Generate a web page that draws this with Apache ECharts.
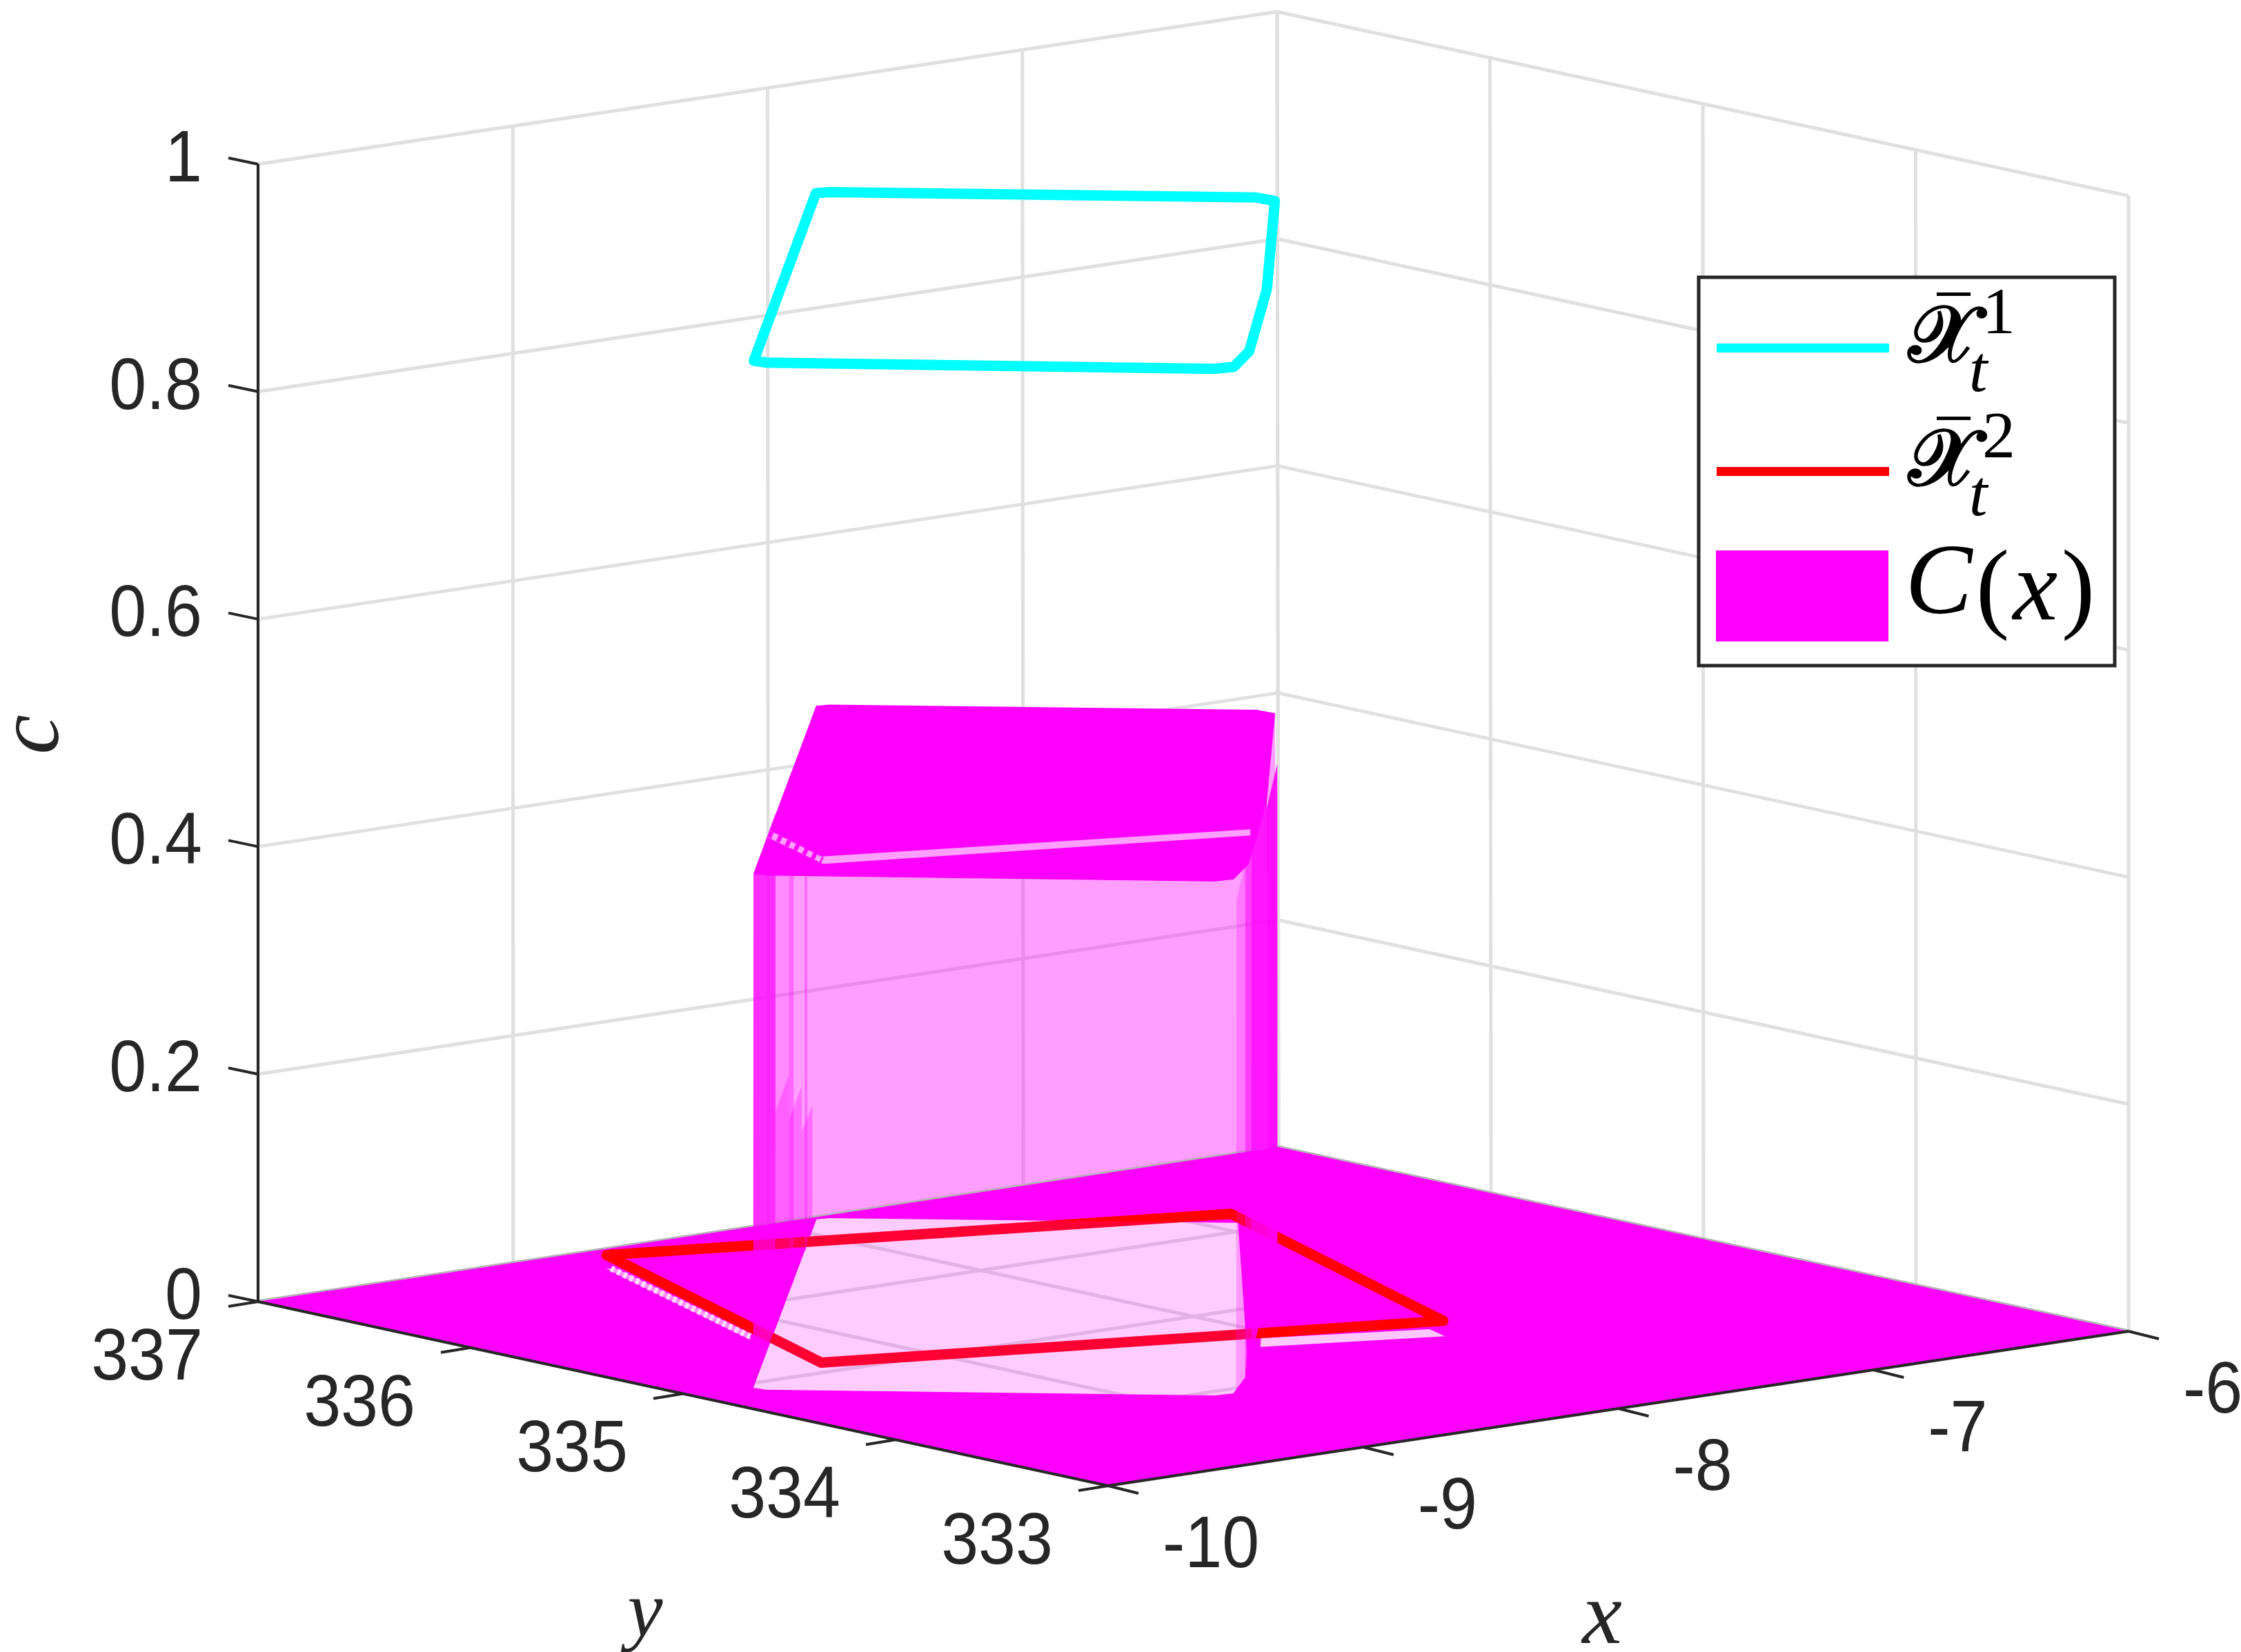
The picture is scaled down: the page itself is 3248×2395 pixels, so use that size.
<!DOCTYPE html>
<html><head><meta charset="utf-8"><style>html,body{margin:0;padding:0;background:#fff}#c{width:3248px;height:2395px}</style>
<script src="https://cdn.jsdelivr.net/npm/echarts@6/dist/echarts.min.js"></script></head><body><div id="c"></div>
<script>
// axis ticks
const xTicks=[-10,-9,-8,-7,-6];
const yTicks=[337,336,335,334,333];
const cTicks=[0,0.2,0.4,0.6,0.8,1];
// level of the first contour and of the top of C(x)
const cyanLevel=0.903, capLevel=0.452;
// outline of the set (x,y)
const regionX=[-9.775,-7.836,-7.793,-6.859,-6.853,-7.82,-8.524,-8.726,-8.791,-9.765];
const regionY=[334.94,336.97,336.96,336.07,335.99,334.87,334.11,333.94,333.95,334.89];
// see-through part of the floor (x,y)
const holeX=[-9.775,-7.836,-7.793,-6.90,-8.256,-8.53,-8.726,-8.791,-9.765];
const holeY=[334.94,336.97,336.96,336.11,334.44,334.12,333.94,333.95,334.89];
// second contour (x,y) at c=0
const redX=[-8.70,-6.82,-7.47,-9.35,-8.70];
const redY=[336.92,336.24,334.46,335.13,336.92];
// gaps in the surface on the floor and in the cap
const gapLeftX=[-8.845,-8.82,-9.204,-9.27], gapLeftY=[336.75,336.73,335.64,335.56];
const gapRightX=[-8.076,-7.59,-7.63,-8.17], gapRightY=[334.59,334.38,334.26,334.48];
const capGapX=[-9.276,-9.434,-8.152,-8.218,-9.51,-9.354], capGapY=[335.46,335.03,334.55,334.47,334.93,335.38];
// dense vertical sheets of the surface side walls: [xa,ya,xb,yb,cTop]
const sheets=[[-9.775,334.94,-9.08,335.67,.452],[-9.08,335.67,-8.66,336.11,.452],[-8.66,336.11,-8.55,336.22,.452],[-8.215,336.57,-8.13,336.66,.452],
[-9.08,335.67,-8.66,336.11,.19],[-8.66,336.11,-8.26,336.53,.15],[-8.26,336.53,-7.96,336.84,.11],
[-8.94,333.67,-8.53,334.12,.452],[-8.53,334.12,-8.29,334.38,.452],[-8.29,334.38,-7.62,335.11,.452],[-7.62,335.11,-7.12,335.66,.43]];
const sheetAlpha=[.72,.12,.35,.35,.3,.3,.3,.25,.6,.85,.92];

// view calibration of the 3D box
const F=[1606,2154],R=[3085,1930],L=[374,1887],Ft=[1608,505],Rt=[3085,284],Lt=[374,238];
function project(x,y,c){const u=(x+10)/4,w=(y-333)/4;
 const fx=F[0]+u*(R[0]-F[0])+w*(L[0]-F[0]),fy=F[1]+u*(R[1]-F[1])+w*(L[1]-F[1]);
 const tx=Ft[0]+u*(Rt[0]-Ft[0])+w*(Lt[0]-Ft[0]),ty=Ft[1]+u*(Rt[1]-Ft[1])+w*(Lt[1]-Ft[1]);
 return [fx+c*(tx-fx),fy+c*(ty-fy)];}
const zip=(X,Y,c)=>X.map((v,i)=>[v,Y[i],c]);
const region=c=>zip(regionX,regionY,c);
const hole=zip(holeX,holeY,0);
const MAG='#ff00ff', DARK='#262626', GRID='#e0e0e0';
let zc=1;
function custom(name,draw){return {type:'custom',name,coordinateSystem:'cartesian2d',clip:false,silent:true,z:zc++,animation:false,data:[0],
 renderItem:(p,api)=>draw(api)};}
const pts=(api,list)=>list.map(q=>api.coord(project(q[0],q[1],q[2])));
function poly(name,list,fill){return custom(name,api=>({type:'polygon',shape:{points:pts(api,list)},style:{fill}}));}
function segs(name,list,color,width){return custom(name,api=>({type:'group',children:list.map(s=>({type:'polyline',shape:{points:pts(api,s)},style:{stroke:color,lineWidth:width,fill:null}}))}));}
function hatch(name,a,b,color,width,dash){return custom(name,api=>{const q=pts(api,[a,b]);
 return {type:'line',shape:{x1:q[0][0],y1:q[0][1],x2:q[1][0],y2:q[1][1]},style:{stroke:color,lineWidth:width,lineDash:dash}};});}
const mid=(X,Y,i,j,c)=>[(X[i]+X[j])/2,(Y[i]+Y[j])/2,c];

const wallGrid=[];
cTicks.forEach(c=>{wallGrid.push([[-10,337,c],[-6,337,c]]);wallGrid.push([[-6,337,c],[-6,333,c]]);});
xTicks.forEach(x=>{wallGrid.push([[x,337,0],[x,337,1]]);});
yTicks.forEach(y=>{wallGrid.push([[-6,y,0],[-6,y,1]]);});
const floorGrid=[];
xTicks.forEach(x=>floorGrid.push([[x,333,0],[x,337,0]]));
yTicks.forEach(y=>floorGrid.push([[-10,y,0],[-6,y,0]]));

const wallOutline=[region(0)[0],region(0)[1],region(0)[2],region(0)[3],region(0)[4],region(capLevel)[4],region(capLevel)[5],region(capLevel)[6],region(capLevel)[7],region(capLevel)[8],region(capLevel)[9],region(capLevel)[0]];

const series=[];
series.push(segs('wall grid',wallGrid,GRID,5));
series.push(segs('floor grid',floorGrid,'#dedede',5));
series.push(poly('C(x) side',wallOutline,'rgba(255,0,255,0.38)'));
series.push(segs('back edge',[[[-10,337,0],[-6,337,0],[-6,333,0]]],'#b4b4b4',5));
series.push(custom('C(x) floor',api=>{
 const o=pts(api,[[-10,337,0],[-10,333,0],[-6,333,0],[-6,337,0]]);
 const h=pts(api,hole);
 const d=a=>'M'+a.map(p=>p[0].toFixed(1)+' '+p[1].toFixed(1)).join('L')+'Z';
 return {type:'path',shape:{pathData:d(o)+d(h)},style:{fill:MAG}};}));
series.push(poly('gap right',zip(gapRightX,gapRightY,0),'#ffc8ff'));
series.push(poly('gap left',zip(gapLeftX,gapLeftY,0),'#ff90ff'));
series.push(hatch('gap left hatch',mid(gapLeftX,gapLeftY,0,1,0),mid(gapLeftX,gapLeftY,2,3,0),'#ffe0ff',9,[5,5]));
series.push({type:'line',name:'X2',data:redX.map((x,i)=>project(x,redY[i],0)),showSymbol:false,clip:false,silent:true,z:zc++,animation:false,
 lineStyle:{color:'#ff0000',width:15,join:'round',cap:'round'}});
series.push(poly('C(x) region',hole,'rgba(255,0,255,0.2)'));
sheets.forEach((s,i)=>series.push(poly('sheet'+i,[[s[0],s[1],0],[s[2],s[3],0],[s[2],s[3],s[4]],[s[0],s[1],s[4]]],'rgba(255,0,255,'+sheetAlpha[i]+')')));
series.push(poly('C(x) cap',region(capLevel),MAG));
series.push(poly('cap gap',zip(capGapX,capGapY,capLevel),'#ff9fff'));
series.push(hatch('cap gap hatch',mid(capGapX,capGapY,0,5,capLevel),mid(capGapX,capGapY,1,4,capLevel),MAG,9,[6,8]));
series.push({type:'line',name:'X1',data:[...regionX,regionX[0]].map((x,i)=>project(x,[...regionY,regionY[0]][i],cyanLevel)),showSymbol:false,clip:false,silent:true,z:zc++,animation:false,
 lineStyle:{color:'#00ffff',width:15,join:'round',cap:'round'}});
// axes
series.push(segs('axes',[[[-10,337,1],[-10,337,0]],[[-10,337,0],[-10,333,0],[-6,333,0]]],DARK,4));
// ticks & labels
series.push(custom('ticks',api=>{
 const ch=[];const tick=(b,dx,dy)=>ch.push({type:'line',shape:{x1:b[0],y1:b[1],x2:b[0]+dx,y2:b[1]+dy},style:{stroke:DARK,lineWidth:4}});
 const text=(t,x,y,align)=>ch.push({type:'text',x,y,scaleY:1.08,style:{text:t,fill:DARK,font:'97px "Liberation Sans"',textAlign:align,textVerticalAlign:'middle'}});
 cTicks.forEach(c=>{const b=api.coord(project(-10,337,c));tick(b,-43,-9);text(String(c),b[0]-81,b[1]-4,'right');});
 yTicks.forEach(y=>{const b=api.coord(project(-10,y,0));tick(b,-43,7);text(String(y),b[0]-80,b[1]+84,'right');});
 xTicks.forEach(x=>{const b=api.coord(project(x,333,0));tick(b,44,11);text(String(x),b[0]+79,b[1]+89,'left');});
 return {type:'group',children:ch};}));

const serif='"Liberation Serif"';
function T(t,x,y,font){return {type:'text',x,y,z:200,style:{text:t,fill:'#000',font,textAlign:'center',textVerticalAlign:'middle'}};}
const lab=(t,x,y,size,r)=>({type:'text',x,y,rotation:r||0,z:200,style:{text:t,fill:DARK,font:'italic '+size+'px '+serif,textAlign:'center',textVerticalAlign:'middle'}});
const graphics=[
 lab('y',935,2342,115),
 lab('x',2322,2348,130),
 lab('c',50,1065,130,Math.PI/2),
 {type:'rect',z:190,shape:{x:2462,y:402,width:603,height:563},style:{fill:'#fff',stroke:DARK,lineWidth:5}},
 {type:'rect',z:191,shape:{x:2488,y:498,width:250,height:13},style:{fill:'#00ffff'}},
 {type:'rect',z:191,shape:{x:2488,y:677,width:250,height:13},style:{fill:'#ff0000'}},
 {type:'rect',z:191,shape:{x:2487,y:798,width:250,height:132},style:{fill:MAG}},
 {type:'rect',z:191,shape:{x:2807,y:424,width:49,height:5},style:{fill:'#000'}},
 {type:'rect',z:191,shape:{x:2807,y:604,width:49,height:5},style:{fill:'#000'}},
 T('𝒳',2816,494,'bold 116px "DejaVu Sans"'),
 T('𝒳',2816,673,'bold 116px "DejaVu Sans"'),
 T('1',2897,458,'96px '+serif),
 T('2',2897,638,'96px '+serif),
 T('t',2867,542,'italic 96px '+serif),
 T('t',2867,722,'italic 96px '+serif),
 T('C',2810,851,'italic 146px '+serif),
 T('(',2888,860,'146px '+serif),
 T('x',2950,860,'italic 146px '+serif),
 T(')',3012,860,'146px '+serif)
];
const chart=echarts.init(document.getElementById('c'),null,{renderer:'canvas'});
chart.setOption({animation:false,backgroundColor:'#ffffff',
 grid:{left:0,right:0,top:0,bottom:0},
 xAxis:{type:'value',min:0,max:3248,show:false},
 yAxis:{type:'value',min:0,max:2395,inverse:true,show:false},
 tooltip:{show:false},series,graphic:{elements:graphics}});
</script></body></html>
